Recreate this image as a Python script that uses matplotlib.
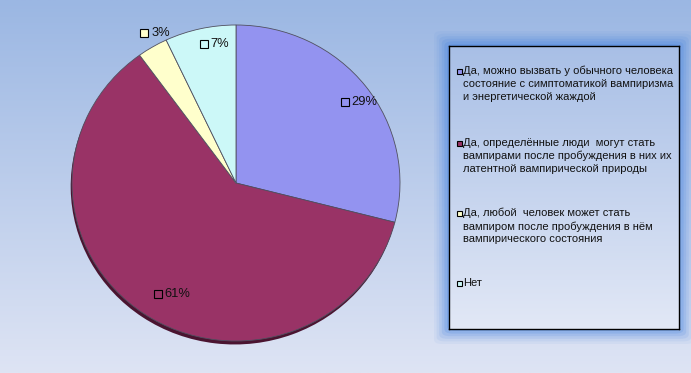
import matplotlib.pyplot as plt
import numpy as np
from matplotlib.patches import Rectangle, FancyBboxPatch

plt.rcParams['font.family'] = ['Liberation Sans', 'DejaVu Sans']

# data, clockwise from 12 o'clock
shares = [29, 61, 3, 7]
share_labels = ["29%", "61%", "3%", "7%"]
legend_labels = [
    "Да, можно вызвать у обычного человека\nсостояние с симптоматикой вампиризма\nи энергетической жаждой",
    "Да, определённые люди  могут стать\nвампирами после пробуждения в них их\nлатентной вампирической природы",
    "Да, любой  человек может стать\nвампиром после пробуждения в нём\nвампирического состояния",
    "Нет",
]
colors = ["#9393F0", "#993366", "#FFFFCC", "#CCF8F8"]
shadow_colors = ["#5a5aa0", "#4a1430", "#a0a080", "#80a0a0"]
label_r = [0.84, 0.85, 1.1, 0.9]

W, H = 691, 373
fig = plt.figure(figsize=(W / 100, H / 100), dpi=100)

# background gradient
bg = fig.add_axes([0, 0, 1, 1], zorder=0)
top = np.array([0x9B, 0xB7, 0xE3]) / 255
bot = np.array([0xDE, 0xE4, 0xF4]) / 255
t = np.linspace(0, 1, 256)[:, None]
grad = top[None, :] * (1 - t) + bot[None, :] * t
bg.imshow(grad[:, None, :], aspect='auto', extent=[0, 1, 0, 1])
bg.set_axis_off()

# pie (slightly wider than tall, like the original)
cx, cy, rx, ry = 236, 183, 164, 158
ax = fig.add_axes([(cx - rx) / W, (H - cy - ry) / H, 2 * rx / W, 2 * ry / H], zorder=2)
ax.pie(shares, colors=shadow_colors, startangle=90, counterclock=False,
       center=(-0.008, -0.022), wedgeprops=dict(linewidth=0))
wedges, _ = ax.pie(shares, colors=colors, startangle=90, counterclock=False,
                   wedgeprops=dict(linewidth=0.6, edgecolor="#505060"))
ax.set_aspect('auto')
ax.set_xlim(-1, 1)
ax.set_ylim(-1, 1)
ax.set_axis_off()

for w, lab, r, c in zip(wedges, share_labels, label_r, colors):
    ang = np.deg2rad((w.theta1 + w.theta2) / 2)
    x, y = r * np.cos(ang), r * np.sin(ang)
    ax.annotate(lab, (x, y), xytext=(5, 0), textcoords='offset points',
                ha='left', va='center', fontsize=9.3, color="#111111")
    ax.plot(x, y, marker='s', ms=5.5, mfc=c, mec='black', mew=0.8)

# legend box with blue glow
lx0, ly0, lx1, ly1 = 449, 46, 679, 329
for i, a in enumerate([0.06, 0.08, 0.11, 0.14, 0.18, 0.22]):
    g = 15 - i * 2.6
    fig.add_artist(FancyBboxPatch(((lx0 - g) / W, (H - ly1 - g) / H),
                                  (lx1 - lx0 + 2 * g) / W, (ly1 - ly0 + 2 * g) / H,
                                  boxstyle="round,pad=0,rounding_size=0.012",
                                  transform=fig.transFigure, fc="#3F7FE0",
                                  ec='none', alpha=a, zorder=0.5))
box_grad = fig.add_axes([lx0 / W, (H - ly1) / H, (lx1 - lx0) / W, (ly1 - ly0) / H], zorder=1)
lt = np.array([0xA8, 0xBF, 0xE6]) / 255
lb = np.array([0xE2, 0xE8, 0xF6]) / 255
g2 = lt[None, :] * (1 - t) + lb[None, :] * t
box_grad.imshow(g2[:, None, :], aspect='auto', extent=[0, 1, 0, 1])
box_grad.set_xticks([])
box_grad.set_yticks([])
for s in box_grad.spines.values():
    s.set_color("black")
    s.set_linewidth(1)

entry_y = [66, 138, 208, 278]
for yy, lab, c in zip(entry_y, legend_labels, colors):
    fig.add_artist(Rectangle((457 / W, (H - yy - 8) / H), 5 / W, 5 / H,
                             transform=fig.transFigure, fc=c, ec='black', lw=0.8,
                             zorder=5))
    fig.text(463 / W, (H - yy) / H, lab, ha='left', va='top', fontsize=8.0,
             color="#111111", linespacing=1.32, zorder=5)

fig.savefig("out.png", dpi=100)
